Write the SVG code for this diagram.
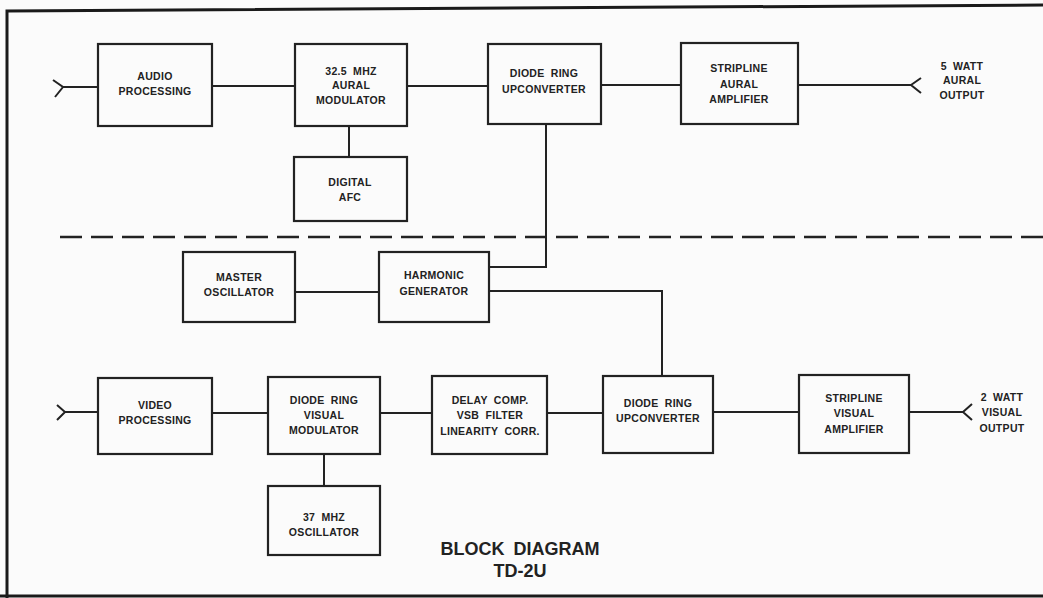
<svg xmlns="http://www.w3.org/2000/svg" width="1043" height="598" viewBox="0 0 1043 598">
<style>
.box{fill:none;stroke:#222;stroke-width:2.2}
.ln{fill:none;stroke:#222;stroke-width:2}
.t{font-family:"Liberation Sans",Arial,sans-serif;font-weight:bold;font-size:10.5px;fill:#222;text-anchor:middle;letter-spacing:0.3px;word-spacing:3px}
.title{font-family:"Liberation Sans",Arial,sans-serif;font-weight:bold;font-size:18px;fill:#222;text-anchor:middle;word-spacing:4px}
</style>
<rect x="0" y="0" width="1043" height="598" fill="#fbfbfb"/>
<g id="frame">
<path d="M7,598 L7,11 L1043,5" fill="none" stroke="#1a1a1a" stroke-width="3"/>
<line x1="0" y1="596" x2="1043" y2="596" stroke="#1a1a1a" stroke-width="3"/>
<line x1="60" y1="237" x2="1043" y2="237" stroke="#222" stroke-width="2.4" stroke-dasharray="22,9"/>
</g>
<g id="connectors">
<path class="ln" d="M53,80 L63,87 L55,97 M63,87 L98,87"/>
<path class="ln" d="M212,86 L295,86"/>
<path class="ln" d="M407,86 L488,86"/>
<path class="ln" d="M601,85 L681,85"/>
<path class="ln" d="M798,85 L911,85 M921,78 L911,85 L921,93"/>
<path class="ln" d="M349,126 L349,157"/>
<path class="ln" d="M546,124 L546,267 L489,267"/>
<path class="ln" d="M295,292 L379,292"/>
<path class="ln" d="M489,291 L662,291 L662,376"/>
<path class="ln" d="M57,405 L65,412 L57,420 M65,412 L98,412"/>
<path class="ln" d="M212,413 L268,413"/>
<path class="ln" d="M380,413 L432,413"/>
<path class="ln" d="M547,413 L603,413"/>
<path class="ln" d="M713,412 L799,412"/>
<path class="ln" d="M909,412 L963,412 M972,404 L963,412 L972,420"/>
<path class="ln" d="M324,454 L324,486"/>
</g>
<g id="audio-processing">
<rect class="box" x="98" y="44" width="114" height="82"/>
<text class="t" x="155" y="80">AUDIO</text>
<text class="t" x="155" y="95">PROCESSING</text>
</g>
<g id="aural-modulator">
<rect class="box" x="295" y="44" width="112" height="82"/>
<text class="t" x="351" y="75">32.5 MHZ</text>
<text class="t" x="351" y="89">AURAL</text>
<text class="t" x="351" y="104">MODULATOR</text>
</g>
<g id="digital-afc">
<rect class="box" x="294" y="157" width="113" height="64"/>
<text class="t" x="350" y="186">DIGITAL</text>
<text class="t" x="350" y="201">AFC</text>
</g>
<g id="aural-upconverter">
<rect class="box" x="488" y="44" width="113" height="80"/>
<text class="t" x="544" y="77">DIODE RING</text>
<text class="t" x="544" y="93">UPCONVERTER</text>
</g>
<g id="aural-amplifier">
<rect class="box" x="681" y="43" width="117" height="81"/>
<text class="t" x="739" y="72">STRIPLINE</text>
<text class="t" x="739" y="88">AURAL</text>
<text class="t" x="739" y="103">AMPLIFIER</text>
</g>
<g id="aural-output">
<text class="t" x="962" y="70">5 WATT</text>
<text class="t" x="962" y="84">AURAL</text>
<text class="t" x="962" y="99">OUTPUT</text>
</g>
<g id="master-oscillator">
<rect class="box" x="183" y="252" width="112" height="70"/>
<text class="t" x="239" y="281">MASTER</text>
<text class="t" x="239" y="296">OSCILLATOR</text>
</g>
<g id="harmonic-generator">
<rect class="box" x="379" y="252" width="110" height="70"/>
<text class="t" x="434" y="279">HARMONIC</text>
<text class="t" x="434" y="295">GENERATOR</text>
</g>
<g id="video-processing">
<rect class="box" x="98" y="378" width="114" height="76"/>
<text class="t" x="155" y="409">VIDEO</text>
<text class="t" x="155" y="424">PROCESSING</text>
</g>
<g id="visual-modulator">
<rect class="box" x="268" y="377" width="112" height="77"/>
<text class="t" x="324" y="404">DIODE RING</text>
<text class="t" x="324" y="419">VISUAL</text>
<text class="t" x="324" y="434">MODULATOR</text>
</g>
<g id="delay-comp">
<rect class="box" x="432" y="376" width="115" height="78"/>
<text class="t" x="490" y="404">DELAY COMP.</text>
<text class="t" x="490" y="419">VSB FILTER</text>
<text class="t" x="490" y="435">LINEARITY CORR.</text>
</g>
<g id="visual-upconverter">
<rect class="box" x="603" y="376" width="110" height="77"/>
<text class="t" x="658" y="407">DIODE RING</text>
<text class="t" x="658" y="422">UPCONVERTER</text>
</g>
<g id="visual-amplifier">
<rect class="box" x="799" y="375" width="110" height="78"/>
<text class="t" x="854" y="402">STRIPLINE</text>
<text class="t" x="854" y="417">VISUAL</text>
<text class="t" x="854" y="433">AMPLIFIER</text>
</g>
<g id="visual-output">
<text class="t" x="1002" y="401">2 WATT</text>
<text class="t" x="1002" y="416">VISUAL</text>
<text class="t" x="1002" y="432">OUTPUT</text>
</g>
<g id="oscillator-37">
<rect class="box" x="268" y="486" width="112" height="69"/>
<text class="t" x="324" y="521">37 MHZ</text>
<text class="t" x="324" y="536">OSCILLATOR</text>
</g>
<g id="title">
<text class="title" x="520" y="555">BLOCK DIAGRAM</text>
<text class="title" x="520" y="577">TD-2U</text>
</g>
</svg>
